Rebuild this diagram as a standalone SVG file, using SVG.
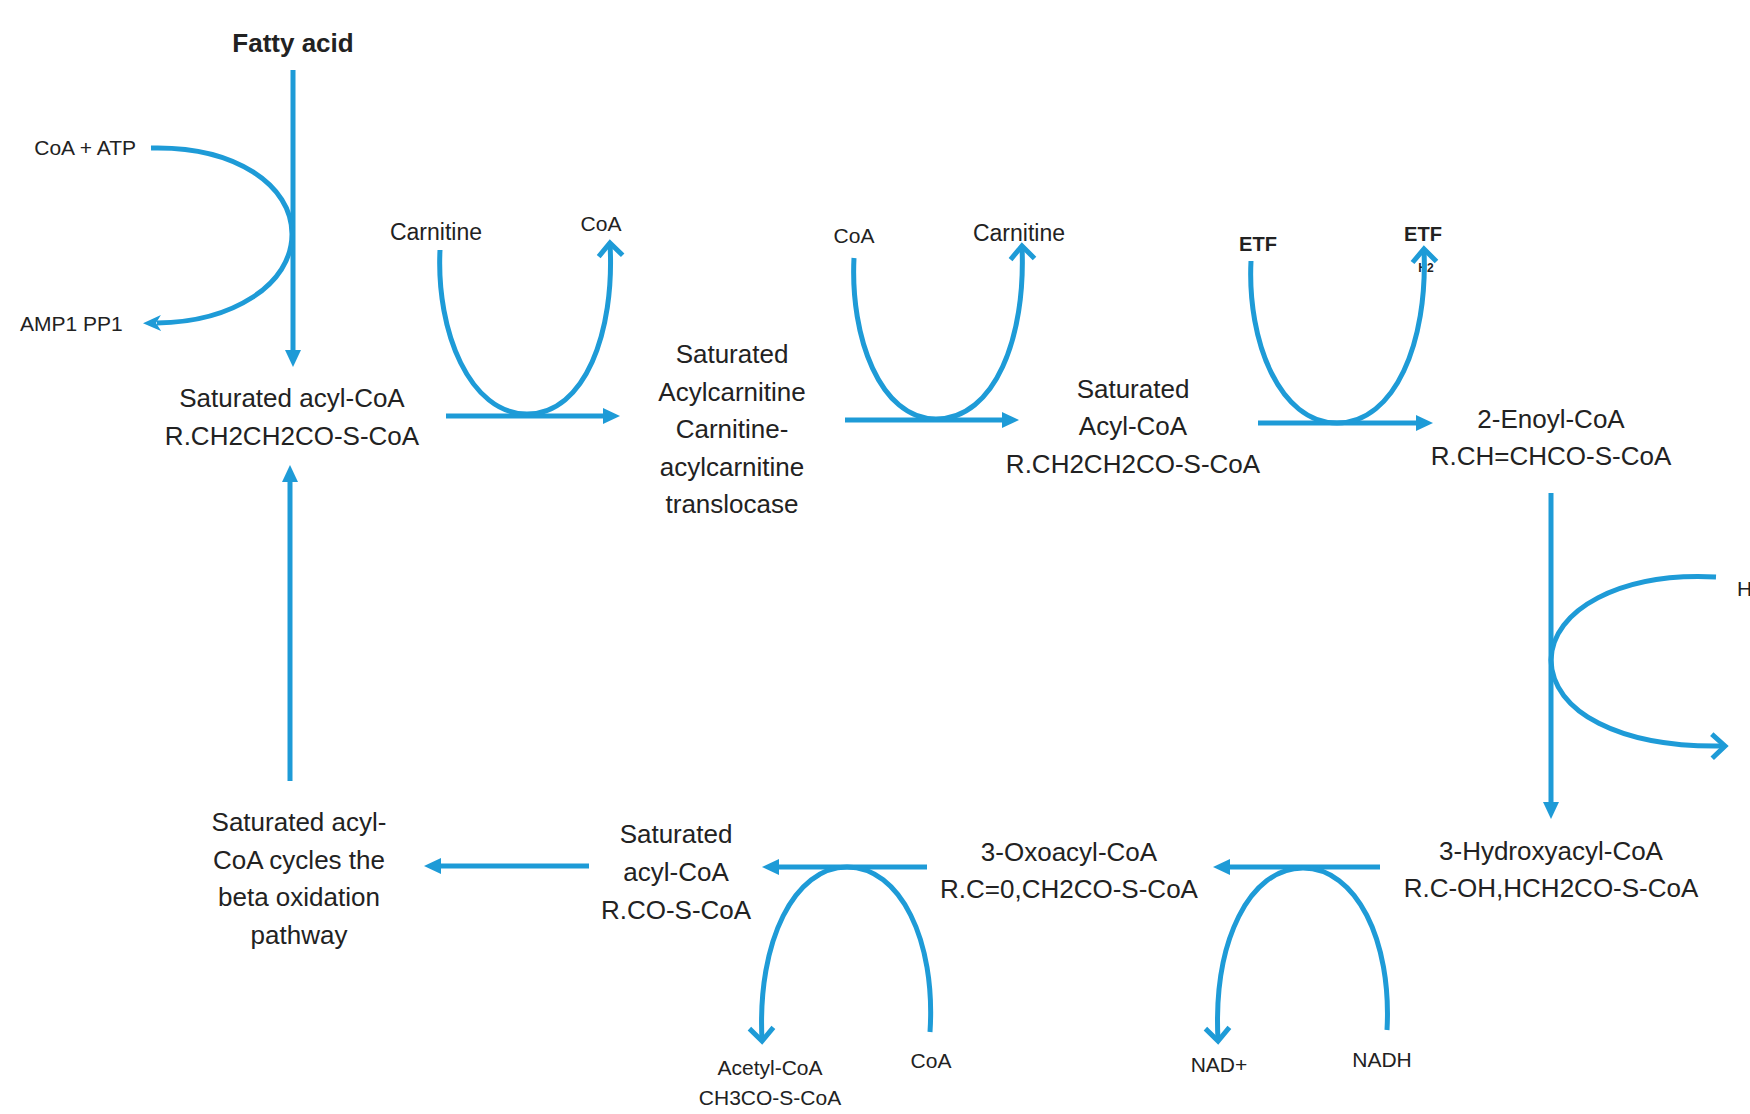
<svg xmlns="http://www.w3.org/2000/svg" width="1750" height="1114" viewBox="0 0 1750 1114">
<style>
  text { font-family: "Liberation Sans", Arial, sans-serif; fill: #222; text-anchor: middle; }
  .m { font-size: 26px; }
  .s { font-size: 21px; }
  .b { font-weight: bold; }
  .ln { fill: none; stroke: #1E9BD7; stroke-width: 5; }
</style>
<defs>
  <marker id="tri" markerUnits="userSpaceOnUse" markerWidth="18" markerHeight="18" viewBox="0 0 18 18" refX="2" refY="9" orient="auto">
    <path d="M0,1 L17,9 L0,17 Z" fill="#1E9BD7"/>
  </marker>
  <marker id="chev" markerUnits="userSpaceOnUse" markerWidth="30" markerHeight="30" viewBox="0 0 30 30" refX="17" refY="15" orient="auto">
    <path d="M5,3 L18,15 L5,27" fill="none" stroke="#1E9BD7" stroke-width="5" stroke-linejoin="miter"/>
  </marker>
  <marker id="stealth" markerUnits="userSpaceOnUse" markerWidth="20" markerHeight="18" viewBox="0 0 20 18" refX="4" refY="9" orient="auto">
    <path d="M0,1 L18,9 L0,17 L5,9 Z" fill="#1E9BD7"/>
  </marker>
</defs>

<g id="n-fatty-acid"><text class="m b" x="293" y="52">Fatty acid</text></g>
<g id="n-coa-atp"><text class="s" x="136" y="155" style="text-anchor:end">CoA + ATP</text></g>
<g id="n-amp"><text class="s" x="20" y="331" style="text-anchor:start">AMP1 PP1</text></g>
<g id="n-sat-acyl-coa"><text class="m" x="292" y="407">Saturated acyl-CoA</text><text class="m" x="292" y="445">R.CH2CH2CO-S-CoA</text></g>
<g id="n-cycles"><text class="m" x="299" y="831">Saturated acyl-</text><text class="m" x="299" y="869">CoA cycles the</text><text class="m" x="299" y="906">beta oxidation</text><text class="m" x="299" y="944">pathway</text></g>
<g id="n-carnitine1"><text class="s" x="436" y="240" style="font-size:23px">Carnitine</text></g>
<g id="n-coa1"><text class="s" x="601" y="231">CoA</text></g>
<g id="n-acylcarnitine"><text class="m" x="732" y="363">Saturated</text><text class="m" x="732" y="401">Acylcarnitine</text><text class="m" x="732" y="438">Carnitine-</text><text class="m" x="732" y="476">acylcarnitine</text><text class="m" x="732" y="513">translocase</text></g>
<g id="n-coa2"><text class="s" x="854" y="243">CoA</text></g>
<g id="n-carnitine2"><text class="s" x="1019" y="241" style="font-size:23px">Carnitine</text></g>
<g id="n-sat-acyl-coa2"><text class="m" x="1133" y="398">Saturated</text><text class="m" x="1133" y="435">Acyl-CoA</text><text class="m" x="1133" y="473">R.CH2CH2CO-S-CoA</text></g>
<g id="n-etf1"><text class="s b" x="1258" y="251" style="font-size:20px">ETF</text></g>
<g id="n-etf2"><text class="s b" x="1423" y="241" style="font-size:20px">ETF</text><text class="b" x="1426" y="272" style="font-size:12px">H2</text></g>
<g id="n-enoyl"><text class="m" x="1551" y="428">2-Enoyl-CoA</text><text class="m" x="1551" y="465">R.CH=CHCO-S-CoA</text></g>
<g id="n-h"><text class="s" x="1737" y="596" style="text-anchor:start">H</text></g>
<g id="n-hydroxy"><text class="m" x="1551" y="860">3-Hydroxyacyl-CoA</text><text class="m" x="1551" y="897">R.C-OH,HCH2CO-S-CoA</text></g>
<g id="n-oxo"><text class="m" x="1069" y="861">3-Oxoacyl-CoA</text><text class="m" x="1069" y="898">R.C=0,CH2CO-S-CoA</text></g>
<g id="n-sat-acyl-coa3"><text class="m" x="676" y="843">Saturated</text><text class="m" x="676" y="881">acyl-CoA</text><text class="m" x="676" y="919">R.CO-S-CoA</text></g>
<g id="n-acetyl"><text class="s" x="770" y="1075">Acetyl-CoA</text><text class="s" x="770" y="1105">CH3CO-S-CoA</text></g>
<g id="n-coa3"><text class="s" x="931" y="1068">CoA</text></g>
<g id="n-nad"><text class="s" x="1219" y="1072">NAD+</text></g>
<g id="n-nadh"><text class="s" x="1382" y="1067">NADH</text></g>

<g id="connectors">
  <path class="ln" d="M293,70 L293,352" marker-end="url(#tri)"/>
  <path class="ln" d="M290,781 L290,480" marker-end="url(#tri)"/>
  <path class="ln" d="M446,416 L605,416" marker-end="url(#tri)"/>
  <path class="ln" d="M845,420 L1004,420" marker-end="url(#tri)"/>
  <path class="ln" d="M1258,423 L1418,423" marker-end="url(#tri)"/>
  <path class="ln" d="M1551,493 L1551,804" marker-end="url(#tri)"/>
  <path class="ln" d="M1380,867 L1228,867" marker-end="url(#tri)"/>
  <path class="ln" d="M927,867 L777,867" marker-end="url(#tri)"/>
  <path class="ln" d="M589,866 L439,866" marker-end="url(#tri)"/>
  <path class="ln" d="M151,148 C235,146 292,185 292,234 C292,285 232,322 157,323" marker-end="url(#stealth)"/>
  <path class="ln" d="M1716,577 C1620,572 1552,610 1551,660 C1552,712 1620,748 1724,746" marker-end="url(#chev)"/>
  <path class="ln" d="M440,250 C436,332 470,414 527,414 C585,414 615,332 610,244" marker-end="url(#chev)"/>
  <path class="ln" d="M854,258 C850,337 880,419 936,419 C995,419 1026,337 1022,247" marker-end="url(#chev)"/>
  <path class="ln" d="M1251,261 C1247,342 1280,423 1337,423 C1395,423 1428,342 1424,250" marker-end="url(#chev)"/>
  <path class="ln" d="M930,1032 C936,940 900,867 847,867 C795,867 757,940 762,1040" marker-end="url(#chev)"/>
  <path class="ln" d="M1387,1030 C1392,940 1356,868 1303,868 C1250,868 1213,940 1218,1040" marker-end="url(#chev)"/>
</g>
</svg>
